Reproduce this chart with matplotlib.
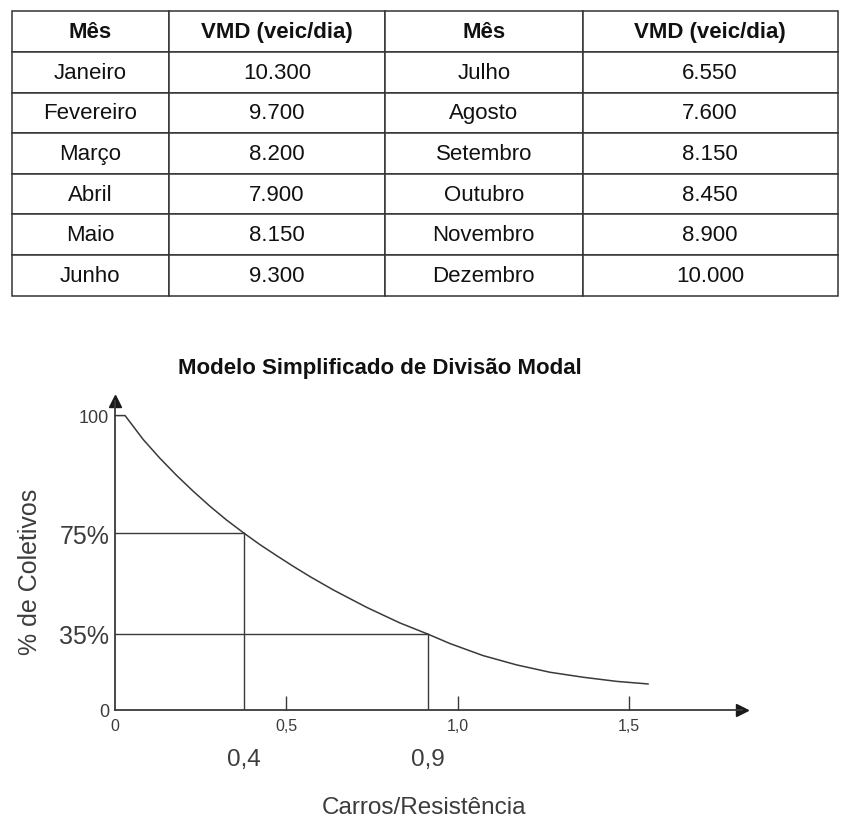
import numpy as np
import matplotlib
matplotlib.use("Agg")
import matplotlib.pyplot as plt
from matplotlib.scale import FuncScale

plt.rcParams['font.family'] = ['Liberation Sans', 'DejaVu Sans']

# ---------------- data ----------------
col_headers = ["Mês", "VMD (veic/dia)", "Mês", "VMD (veic/dia)"]
meses_1 = ["Janeiro", "Fevereiro", "Março", "Abril", "Maio", "Junho"]
vmd_1 = [10300, 9700, 8200, 7900, 8150, 9300]
meses_2 = ["Julho", "Agosto", "Setembro", "Outubro", "Novembro", "Dezembro"]
vmd_2 = [6550, 7600, 8150, 8450, 8900, 10000]

chart_title = "Modelo Simplificado de Divisão Modal"
curve_x = [0.0, 0.030, 0.083, 0.132, 0.180, 0.229, 0.278, 0.326, 0.377, 0.423,
           0.472, 0.520, 0.569, 0.637, 0.734, 0.831, 0.912, 0.977, 1.074,
           1.172, 1.269, 1.366, 1.463, 1.555]
curve_y = [100, 100, 94.9, 90.9, 87.3, 83.9, 80.7, 77.8, 75.0, 70.5,
           66.1, 61.9, 57.8, 52.5, 45.6, 39.4, 35.0, 30.6, 25.0,
           20.7, 17.3, 15.0, 13.1, 11.9]
guide_x = [0.377, 0.912]
guide_y = [75, 35]
guide_x_labels = ["0,4", "0,9"]
x_ticks = [0, 0.5, 1.0, 1.5]
x_tick_labels = ["0", "0,5", "1,0", "1,5"]
y_ticks = [0, 35, 75, 100]
y_tick_labels = ["0", "35%", "75%", "100"]
x_label = "Carros/Resistência"
y_label = "% de Coletivos"


def fmt(v):
    return f"{v:,}".replace(",", ".")


W, H = 851, 829
fig = plt.figure(figsize=(W / 100, H / 100), dpi=100)

# ---------------- table ----------------
ax_t = fig.add_axes([0, 0, 1, 1])
ax_t.set_axis_off()
cells = [[m1, fmt(v1), m2, fmt(v2)] for m1, v1, m2, v2 in zip(meses_1, vmd_1, meses_2, vmd_2)]
left, right, top, bottom = 11.7, 837.5, 12.3, 296.7
col_edges = [11.7, 169, 385, 582.5, 837.5]
widths = np.diff(col_edges) / (right - left)
tbl = ax_t.table(cellText=cells, colLabels=col_headers, colWidths=list(widths),
                 cellLoc='center',
                 bbox=[left / W, 1 - bottom / H, (right - left) / W, (bottom - top) / H])
tbl.auto_set_font_size(False)
for (r, c), cell in tbl.get_celld().items():
    cell.set_edgecolor('#333333')
    cell.set_linewidth(1.1)
    cell.get_text().set_fontsize(16)
    cell.get_text().set_color('#111111')
    if r == 0:
        cell.get_text().set_fontweight('bold')

# ---------------- chart ----------------
anchors_v = [-100, 0, 35, 75, 100, 200]
anchors_h = [-216.3, 0, 75.7, 176.4, 294, 764.4]


def fwd(v):
    return np.interp(v, anchors_v, anchors_h)


def inv(h):
    return np.interp(h, anchors_h, anchors_v)


ax = fig.add_axes([114.8 / W, 1 - 710.7 / H, 627.2 / W, 308.7 / H])
ax.set_yscale(FuncScale(ax.yaxis, (fwd, inv)))
ax.set_xlim(0, 1.829)
ax.set_ylim(0, 103.1)

line_c = '#3a3a3a'
text_c = '#3c3c3c'

ax.plot(curve_x, curve_y, color=line_c, lw=1.1, clip_on=False,
        solid_joinstyle='round')
for gx, gy in zip(guide_x, guide_y):
    ax.plot([0, gx], [gy, gy], color=line_c, lw=1.0)
    ax.plot([gx, gx], [0, gy], color=line_c, lw=1.0)

for s in ['top', 'right']:
    ax.spines[s].set_visible(False)
for s in ['left', 'bottom']:
    ax.spines[s].set_color(line_c)
    ax.spines[s].set_linewidth(1.3)

ax.plot(1, 0, '>', color='#1a1a1a', ms=9, transform=ax.transAxes, clip_on=False)
ax.plot(0, 1, '^', color='#1a1a1a', ms=9, transform=ax.transAxes, clip_on=False)

ax.set_xticks(x_ticks)
ax.set_xticklabels(x_tick_labels)
ax.tick_params(axis='x', direction='in', length=10, width=1.0, color=line_c,
               labelsize=11.5, labelcolor=text_c, pad=6)
ax.xaxis.get_major_ticks()[0].tick1line.set_visible(False)
ax.set_yticks(y_ticks)
ax.set_yticklabels(y_tick_labels)
ax.tick_params(axis='y', length=0, pad=4, labelcolor=text_c)
for lab, t in zip(ax.get_yticklabels(), y_tick_labels):
    lab.set_fontsize(18 if '%' in t else 13)
ax.yaxis.set_minor_locator(matplotlib.ticker.NullLocator())

for gx, lab in zip(guide_x, guide_x_labels):
    ax.text(gx, -0.16, lab, transform=ax.get_xaxis_transform(), ha='center', va='center',
            fontsize=17.5, color=text_c)

ax.set_xlabel(x_label, fontsize=17.5, color=text_c)
ax.xaxis.set_label_coords((424 - 114.8) / 627.2, (710.7 - 808) / 308.7)
ax.xaxis.label.set_va('center')
ax.set_ylabel(y_label, fontsize=18, color=text_c)
ax.yaxis.set_label_coords((30 - 114.8) / 627.2, (710.7 - 572) / 308.7)
ax.yaxis.label.set_va('center')

fig.text(379.5 / W, 1 - 369 / H, chart_title, ha='center', va='center',
         fontsize=16, fontweight='bold', color='#111111')

fig.savefig('out.png', dpi=100)
